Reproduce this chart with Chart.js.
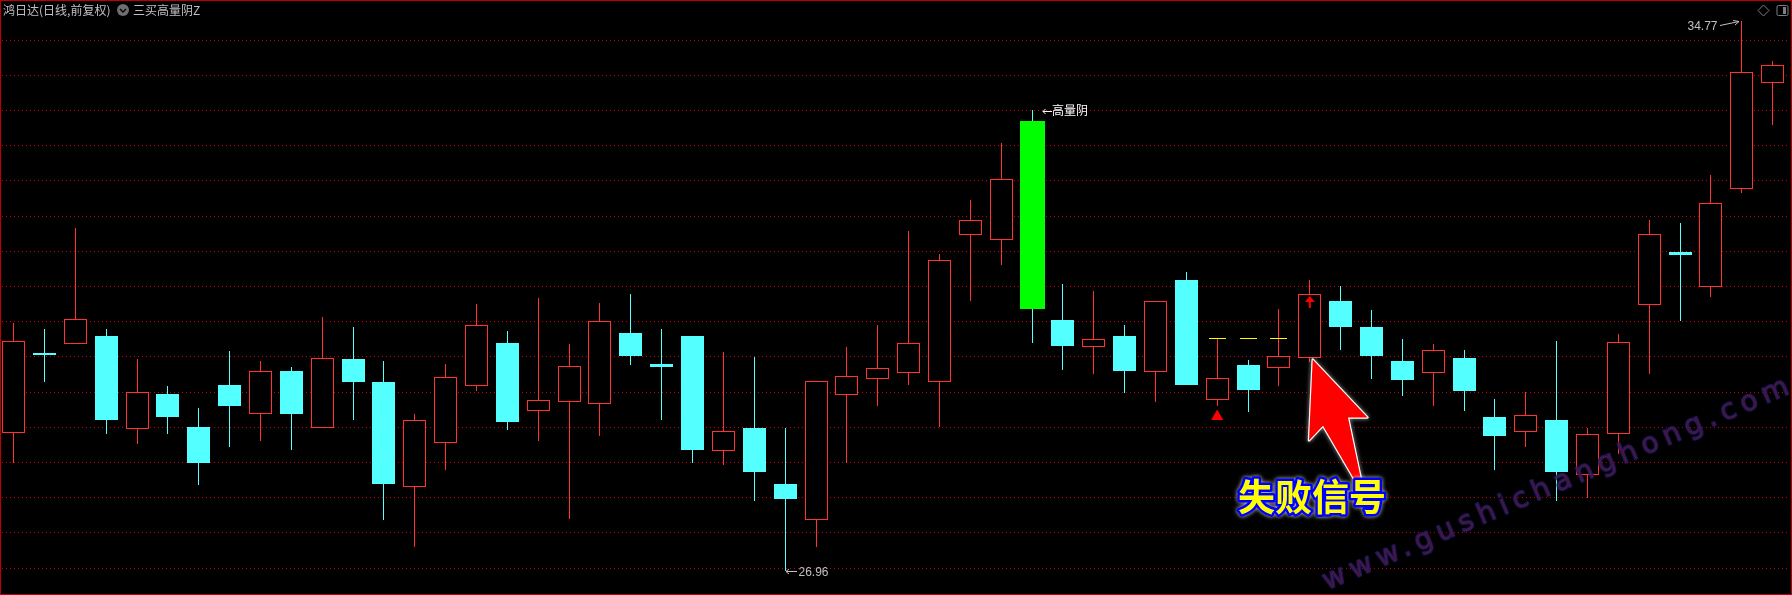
<!DOCTYPE html>
<html>
<head>
<meta charset="utf-8">
<style>html,body{margin:0;padding:0;background:#000;overflow:hidden}#wrap{width:1792px;height:595px;position:relative}canvas{display:block}</style>
<script src="https://cdn.jsdelivr.net/npm/chart.js@4/dist/chart.umd.js"></script>
</head>
<body>
<div id="wrap"><canvas id="c" width="1792" height="595"></canvas></div>
<script>
const stockTitle = "鸿日达(日线,前复权)";
const indicatorName = "三买高量阴Z";
const highLabel = "34.77";
const lowLabel = "26.96";
const signalText = "失败信号";
const markerText = "高量阴";
const watermark = "www.gushichanghong.com";

const open = [28.918,30.054,30.182,30.295,28.974,29.472,29.003,29.599,29.188,29.798,28.989,29.969,29.642,28.151,28.776,29.585,30.196,29.230,29.358,29.330,30.338,29.898,30.295,28.662,28.989,28.193,27.682,29.457,29.685,29.770,29.642,31.730,31.659,33.349,30.523,30.139,30.295,29.784,31.091,29.386,29.884,29.841,29.983,30.793,30.423,29.940,29.770,29.983,29.145,28.932,29.102,28.321,28.903,30.736,31.489,30.991,32.384,33.889];
const high = [30.480,30.395,31.830,30.395,29.969,29.585,29.273,30.082,29.940,29.855,30.565,30.423,29.940,29.188,29.898,30.750,30.366,30.835,30.182,30.764,30.892,30.395,30.295,30.068,29.997,28.989,29.656,30.139,30.452,31.787,31.460,32.227,33.037,33.506,31.034,30.935,30.452,30.793,31.205,30.267,29.955,30.679,31.091,31.006,30.665,30.253,30.182,30.097,29.401,29.500,30.224,28.989,30.324,31.943,31.901,32.582,34.77,34.202];
const low = [28.492,29.642,30.182,28.903,28.761,28.903,28.179,28.719,28.804,28.676,28.989,29.102,27.682,27.298,28.392,29.514,28.960,28.804,27.696,28.875,29.884,29.102,28.492,28.463,27.952,26.96,27.298,28.492,29.301,29.599,29.003,30.793,31.304,30.196,29.813,29.756,29.486,29.358,29.599,29.301,29.216,29.585,29.926,30.097,29.685,29.443,29.301,29.230,28.392,28.719,27.952,27.994,28.619,29.756,30.508,30.849,32.327,33.293];
const close = [30.224,30.026,30.537,29.102,29.500,29.145,28.492,29.301,29.798,29.188,29.983,29.642,28.193,29.102,29.713,30.452,29.074,29.386,29.869,30.508,30.011,29.855,28.676,28.946,28.364,27.980,29.656,29.727,29.841,30.196,31.375,31.943,32.526,30.679,30.153,30.253,29.798,30.793,29.599,29.699,29.528,30.011,30.892,30.423,30.011,29.670,30.097,29.514,28.875,29.173,28.364,28.903,30.210,31.744,31.446,32.185,34.045,34.145];
const resistance = [[39,30.26],[40,30.26],[41,30.26]];
const highlightDay = 33;
const buyTriangle = [[39,29.152]];
const buyArrow = [[42,30.78]];
const priceLevels = [27,27.5,28,28.5,29,29.5,30,30.5,31,31.5,32,32.5,33,33.5,34,34.5];

const RED = '#ff3232', CYAN = '#54ffff', GREEN = '#00ff00', BG = '#000000';
const days = open.map((_, i) => i);
const isUp = days.map(i => close[i] > open[i]);

const arrowImg = document.createElement('canvas');
arrowImg.width = 10; arrowImg.height = 12;
(() => {
  const g = arrowImg.getContext('2d');
  g.fillStyle = '#ff0000';
  g.beginPath(); g.moveTo(5,0); g.lineTo(10,6); g.lineTo(0,6); g.closePath(); g.fill();
  g.fillRect(4,6,2,6);
})();

const snapPlugin = {
  id: 'snap',
  beforeDatasetsDraw(chart) {
    chart.getSortedVisibleDatasetMetas().forEach(m => {
      if (m.type !== 'bar') return;
      m.data.forEach(el => {
        el.x = Math.floor(el.x) + 0.5;
        el.y = Math.round(el.y);
        el.base = Math.round(el.base);
        el.height = el.base - el.y;
      });
    });
  }
};

const decorPlugin = {
  id: 'decor',
  afterDatasetsDraw(chart) {
    const g = chart.ctx;
    g.save();
    // watermark
    g.save();
    g.translate(1327, 590);
    g.rotate(-23 * Math.PI / 180);
    g.font = '28px "DejaVu Sans"';
    g.letterSpacing = '6.1px';
    g.textBaseline = 'alphabetic';
    g.textAlign = 'left';
    g.lineWidth = 2;
    g.lineJoin = 'round';
    g.strokeStyle = 'rgba(25,25,100,0.8)';
    g.strokeText(watermark, 0, 0);
    g.fillStyle = 'rgba(80,25,75,0.8)';
    g.fillText(watermark, 0, 0);
    g.restore();
    g.letterSpacing = '0px';

    // big arrow
    g.save();
    g.beginPath();
    g.moveTo(1312.7, 359.5);
    g.lineTo(1367.5, 417.5);
    g.lineTo(1348, 417.5);
    g.lineTo(1362, 484);
    g.lineTo(1357, 484);
    g.lineTo(1323, 425.7);
    g.lineTo(1309, 440.5);
    g.closePath();
    g.lineJoin = 'round';
    g.shadowColor = 'rgba(255,255,255,0.7)';
    g.shadowBlur = 4;
    g.strokeStyle = '#ffffff';
    g.lineWidth = 2.4;
    g.stroke();
    g.shadowBlur = 0;
    g.fillStyle = '#ff0000';
    g.fill();
    g.restore();

    // signal text
    g.save();
    g.font = 'bold 37px "Noto Sans CJK SC"';
    g.textAlign = 'left';
    g.textBaseline = 'middle';
    g.lineJoin = 'round';
    g.shadowColor = 'rgba(255,255,255,0.8)';
    g.shadowBlur = 4;
    g.strokeStyle = '#0000ff';
    g.lineWidth = 5;
    g.strokeText(signalText, 1238, 497);
    g.shadowBlur = 0;
    g.fillStyle = '#ffff00';
    g.fillText(signalText, 1238, 497);
    g.restore();

    // labels
    g.textBaseline = 'middle';
    g.font = '12px "Noto Sans CJK SC"';
    g.fillStyle = '#c0c0c0';
    g.textAlign = 'left';
    g.fillText(stockTitle, 3, 10);
    g.fillText(indicatorName, 133, 10);
    g.beginPath(); g.arc(123, 10, 6, 0, Math.PI * 2); g.fillStyle = '#6e6e6e'; g.fill();
    g.strokeStyle = '#000'; g.lineWidth = 1.3;
    g.beginPath(); g.moveTo(120, 9); g.lineTo(123, 12); g.lineTo(126, 9); g.stroke();

    // marker label
    g.fillStyle = '#ffffff'; g.strokeStyle = '#ffffff'; g.lineWidth = 1;
    g.font = '12px "Noto Sans CJK SC"';
    g.fillText(markerText, 1052, 110);
    g.beginPath(); g.moveTo(1043, 111.5); g.lineTo(1052, 111.5);
    g.moveTo(1045.5, 109); g.lineTo(1043, 111.5); g.lineTo(1045.5, 114); g.stroke();

    // high/low labels
    g.font = '12px "Liberation Sans"';
    g.fillStyle = '#c0c0c0'; g.strokeStyle = '#c0c0c0';
    g.fillText(highLabel, 1687.5, 27);
    g.beginPath(); g.moveTo(1720, 25.5); g.lineTo(1739, 21.5);
    g.moveTo(1733, 20.5); g.lineTo(1739, 21.5); g.lineTo(1735, 25); g.stroke();
    g.fillText(lowLabel, 798.5, 573);
    g.beginPath(); g.moveTo(786, 571.5); g.lineTo(797, 571.5);
    g.moveTo(789, 569); g.lineTo(786, 571.5); g.lineTo(789, 574); g.stroke();

    // top right icons
    g.strokeStyle = '#7e7e7e'; g.lineWidth = 1;
    g.beginPath(); g.moveTo(1763.5, 5); g.lineTo(1769, 10.5); g.lineTo(1763.5, 16); g.lineTo(1758, 10.5); g.closePath(); g.stroke();
    g.beginPath(); g.roundRect(1777, 5.5, 11, 10, 1.5); g.stroke();
    g.fillStyle = '#7e7e7e'; g.fillRect(1783, 7, 3, 7);

    // frame
    g.strokeStyle = '#c00000'; g.lineWidth = 1;
    g.strokeRect(0.5, 0.5, 1791, 594);
    g.restore();
  }
};

const barStyle = { type:'bar', grouped:false, inflateAmount:0, borderSkipped:false };
const bodyDays = days.filter(i => i !== highlightDay);

new Chart(document.getElementById('c'), {
  type: 'bar',
  plugins: [snapPlugin, decorPlugin],
  data: {
    datasets: [
      { ...barStyle, order:3, barThickness:1, borderWidth:0,
        data: days.map(i => ({x:i, y:[low[i], high[i]]})),
        backgroundColor: days.map(i => isUp[i] ? RED : CYAN) },
      { ...barStyle, order:2, barThickness:23, borderWidth:1,
        data: bodyDays.map(i => ({x:i, y:[open[i], close[i]]})),
        backgroundColor: bodyDays.map(i => isUp[i] ? BG : CYAN),
        borderColor: bodyDays.map(i => isUp[i] ? RED : CYAN) },
      { ...barStyle, order:2, barThickness:25, borderWidth:0,
        data: [{x:highlightDay, y:[open[highlightDay], close[highlightDay]]}],
        backgroundColor: GREEN },
      { ...barStyle, order:1, barThickness:17, borderWidth:0,
        data: resistance.map(p => ({x:p[0], y:[p[1]-0.007, p[1]+0.007]})),
        backgroundColor: '#ffff00' },
      { type:'scatter', order:0, showLine:false,
        data: buyTriangle.map(p => ({x:p[0], y:p[1]})),
        pointStyle:'triangle', pointRadius:7, pointBackgroundColor:'#ff0000', pointBorderWidth:0 },
      { type:'scatter', order:0, showLine:false,
        data: buyArrow.map(p => ({x:p[0], y:p[1]})),
        pointStyle: arrowImg, pointRadius:6 }
    ]
  },
  options: {
    responsive:false, animation:false, devicePixelRatio:1,
    layout:{ autoPadding:false, padding:{left:2, right:5, top:0, bottom:0} },
    plugins:{ legend:{display:false}, tooltip:{enabled:false}, title:{display:false} },
    scales:{
      x:{ type:'linear', bounds:'data', offset:false, min:-0.37751, max:57.4644, display:false, grid:{display:false, offset:false} },
      y:{ type:'linear', bounds:'data', offset:false, min:26.6165, max:35.0682, position:'left',
          afterBuildTicks(s){ s.ticks = priceLevels.map(v => ({value:v})); },
          border:{display:false, dash:[1,3]},
          ticks:{ display:false },
          grid:{ color:'#cc0000', lineWidth:1, drawTicks:false, tickLength:0 }
      }
    }
  }
});
</script>
</body>
</html>
